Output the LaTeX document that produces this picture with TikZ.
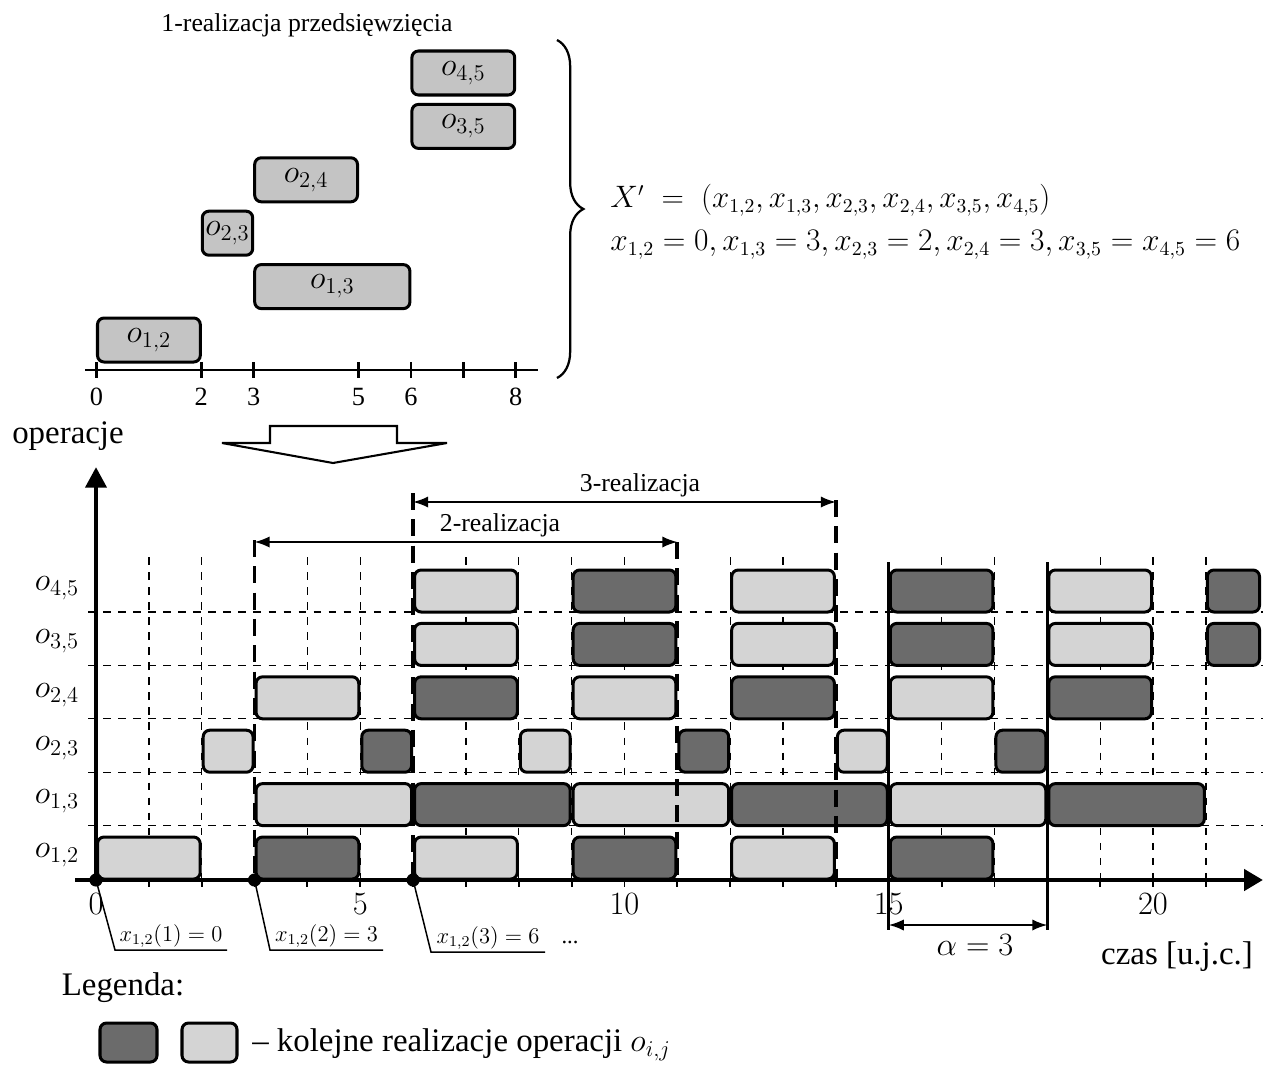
\documentclass[tikz,border=0pt]{standalone}
\usepackage{fontspec}
\usepackage{graphicx}
\setmainfont{Liberation Serif}
\usetikzlibrary{arrows.meta,decorations.pathreplacing,fit,calc}

\definecolor{barlight}{gray}{0.83}
\definecolor{bardark}{gray}{0.42}
\definecolor{bartop}{gray}{0.77}

% time axis of the schedule (lower chart) and of the single run (upper chart)
\pgfmathdeclarefunction{tx}{1}{\pgfmathparse{96+52.85*#1}}
\pgfmathdeclarefunction{tt}{1}{\pgfmathparse{96.5+52.4*#1}}

\begin{document}
\begin{tikzpicture}[x=0.5318pt,y=-0.5318pt,
  bar/.style={draw=black,line width=1.6pt,rounded corners=3.5pt,inner sep=0pt},
  lightbar/.style={bar,fill=barlight},
  darkbar/.style={bar,fill=bardark},
  topbar/.style={bar,fill=bartop},
  gridline/.style={line width=0.7pt,dash pattern=on 4pt off 4pt},
  bound/.style={line width=2pt,dash pattern=on 9pt off 5pt},
  axisline/.style={line width=2.6pt},
  dim/.style={line width=1pt,{Latex[length=8pt,width=6pt]}-{Latex[length=8pt,width=6pt]}},
  lead/.style={line width=0.8pt},
  dot/.style={circle,fill=black,inner sep=0pt,minimum size=7pt},
  txt/.style={font=\fontsize{17.5}{20}\selectfont,inner sep=1pt},
  smalltxt/.style={font=\fontsize{13.7}{16}\selectfont,inner sep=1pt},
  oplbl/.style={font=\fontsize{17}{20}\selectfont,inner sep=0pt},
  anno/.style={font=\fontsize{12}{14}\selectfont,inner sep=1pt},
  eq/.style={font=\fontsize{16}{19}\selectfont,inner sep=0pt},
]
\useasboundingbox (0,0) rectangle (1263,1066);

% ---------- upper chart: one run of the project ----------
\node[smalltxt] (title) at (307,25) {1-realizacja przedsięwzięcia};

\foreach \k/\s/\e/\lab in {0/0/2/{1,2},1/3/6/{1,3},2/2/3/{2,3},3/3/5/{2,4},4/6/8/{3,5},5/6/8/{4,5}}{
  \pgfmathsetmacro\xa{tt(\s)+1}
  \pgfmathsetmacro\xb{tt(\e)-1}
  \pgfmathsetmacro\yb{362-53.4*\k}
  \pgfmathsetmacro\yt{\yb-44}
  \node[topbar,fit={(\xa,\yt) (\xb,\yb)}] (top-\k) {};
  \node[oplbl] (toplbl-\k) at (top-\k.center) {$o_{\lab}$};
}

\draw[line width=1.3pt] (85,370) -- (538,370);
\foreach \t in {0,2,3,5,6,7,8}
  \draw[line width=1.3pt] ({tt(\t)},362) -- ({tt(\t)},378);
\foreach \t in {0,2,3,5,6,8}
  \node[font=\fontsize{14}{16}\selectfont] (tnum-\t) at ({tt(\t)},397) {\t};

% brace and the start times of the run (widths: 440 and 630 units)
\draw[decorate,decoration={brace,amplitude=14pt},line width=1.2pt] (557,40) -- (557,378);
\node[eq,anchor=west] (xdef) at (610,200)
  {\resizebox{234pt}{!}{$X' \;=\; \bigl(x_{1,2}, x_{1,3}, x_{2,3}, x_{2,4}, x_{3,5}, x_{4,5}\bigr)$}};
\node[eq,anchor=west] (xval) at (610,245)
  {\resizebox{335pt}{!}{$x_{1,2} = 0, x_{1,3} = 3, x_{2,3} = 2, x_{2,4} = 3, x_{3,5} = x_{4,5} = 6$}};

% hollow arrow down to the cyclic schedule
\draw[line width=1.1pt,fill=white] (270,426) -- (397,426) -- (397,443) -- (447,443)
  -- (333,463) -- (222,443) -- (270,443) -- cycle;

% ---------- lower chart: cyclic schedule ----------
\node[txt] (ylab) at (68,436) {operacje};

% background grid
\foreach \k in {1,...,5}
  \draw[gridline] (88,{879-53.4*\k}) -- (1263,{879-53.4*\k});
\foreach \t in {1,2,4,5,7,8,9,10,12,13,16,17,19,20,21}
  \draw[gridline] ({tx(\t)},557) -- ({tx(\t)},880);

% operations of successive runs, each run shifted by 3 units
\foreach \k/\s/\e in {0/0/2,1/3/6,2/2/3,3/3/5,4/6/8,5/6/8}{
  \foreach \r in {0,...,5}{
    \pgfmathsetmacro\xa{tx(\s+3*\r)+1.5}
    \pgfmathsetmacro\xb{min(tx(\e+3*\r),1261)-1.5}
    \pgfmathsetmacro\yb{879-53.4*\k}
    \pgfmathsetmacro\yt{\yb-42}
    \ifodd\r \def\bs{darkbar}\else\def\bs{lightbar}\fi
    \node[\bs,fit={(\xa,\yt) (\xb,\yb)}] (bar-\k-\r) {};
  }
}

% row labels
\foreach \k/\lab in {0/{1,2},1/{1,3},2/{2,3},3/{2,4},4/{3,5},5/{4,5}}
  \node[oplbl] (row-\k) at (57,{855-53.4*\k}) {$o_{\lab}$};

% boundaries of runs 2 and 3
\draw[bound] ({tx(3)},540) -- ({tx(3)},880);
\draw[bound] ({tx(6)},493) -- ({tx(6)},880);
\draw[bound] ({tx(11)},542) -- ({tx(11)},880);
\draw[bound] ({tx(14)},500) -- ({tx(14)},880);

\coordinate (r2a) at ({tx(3)},542);
\coordinate (r2b) at ({tx(11)},542);
\coordinate (r3a) at ({tx(6)},502);
\coordinate (r3b) at ({tx(14)},502);
\draw[dim] (r2a) -- (r2b);
\draw[dim] (r3a) -- (r3b);
\node[smalltxt] (r2lbl) at (500,525) {2-realizacja};
\node[smalltxt] (r3lbl) at (640,485) {3-realizacja};

% cycle time
\coordinate (c15t) at ({tx(15)},562);
\coordinate (c15b) at ({tx(15)},930);
\coordinate (c18t) at ({tx(18)},562);
\coordinate (c18b) at ({tx(18)},930);
\draw[line width=1.6pt] (c15t) -- (c15b);
\draw[line width=1.6pt] (c18t) -- (c18b);
\coordinate (al) at ({tx(15)},925);
\coordinate (ar) at ({tx(18)},925);
\draw[dim] (al) -- (ar);
\node[txt] (alpha) at (975,945) {$\alpha = 3$};

% axes
\draw[axisline,-{Triangle[length=10pt,width=11pt]}] (75,880) -- (1263,880);
\draw[axisline,-{Triangle[length=11pt,width=11pt]}] (96,882) -- (96,467);
\foreach \t in {1,...,21}
  \draw[line width=1pt] ({tx(\t)},880) -- ({tx(\t)},887);
\foreach \t in {0,5,10,15,20}
  \node[font=\fontsize{17}{20}\selectfont] (xnum-\t) at ({tx(\t)},904) {$\t$};
\node[txt] (xlab) at (1177,957) {czas [u.j.c.]};

% start times of operation o_{1,2}
\node[dot] (d0) at ({tx(0)},880) {};
\node[dot] (d3) at ({tx(3)},880) {};
\node[dot] (d6) at ({tx(6)},880) {};
\coordinate (l0a) at (115,950);
\coordinate (l0b) at (227,950);
\coordinate (l3a) at (270,950);
\coordinate (l3b) at (383,950);
\coordinate (l6a) at (431,952);
\coordinate (l6b) at (545,952);
\draw[lead] (d0.center) -- (l0a) -- (l0b);
\draw[lead] (d3.center) -- (l3a) -- (l3b);
\draw[lead] (d6.center) -- (l6a) -- (l6b);
\node[anno,above] (s1) at ($(l0a)!0.5!(l0b)$) {$x_{1,2}(1) = 0$};
\node[anno,above] (s2) at ($(l3a)!0.5!(l3b)$) {$x_{1,2}(2) = 3$};
\node[anno,above] (s3) at ($(l6a)!0.5!(l6b)$) {$x_{1,2}(3) = 6$};
\node[anno] (more) at (570,942) {...};

% legend
\node[txt] (leg) at (123,988) {Legenda:};
\node[darkbar,fit={(100,1023) (157,1062)}] (legdark) {};
\node[lightbar,fit={(182,1023) (237,1062)}] (leglight) {};
\node[txt,anchor=west] (legtxt) at (250,1045) {– kolejne realizacje operacji $o_{i,j}$};
\end{tikzpicture}
\end{document}
